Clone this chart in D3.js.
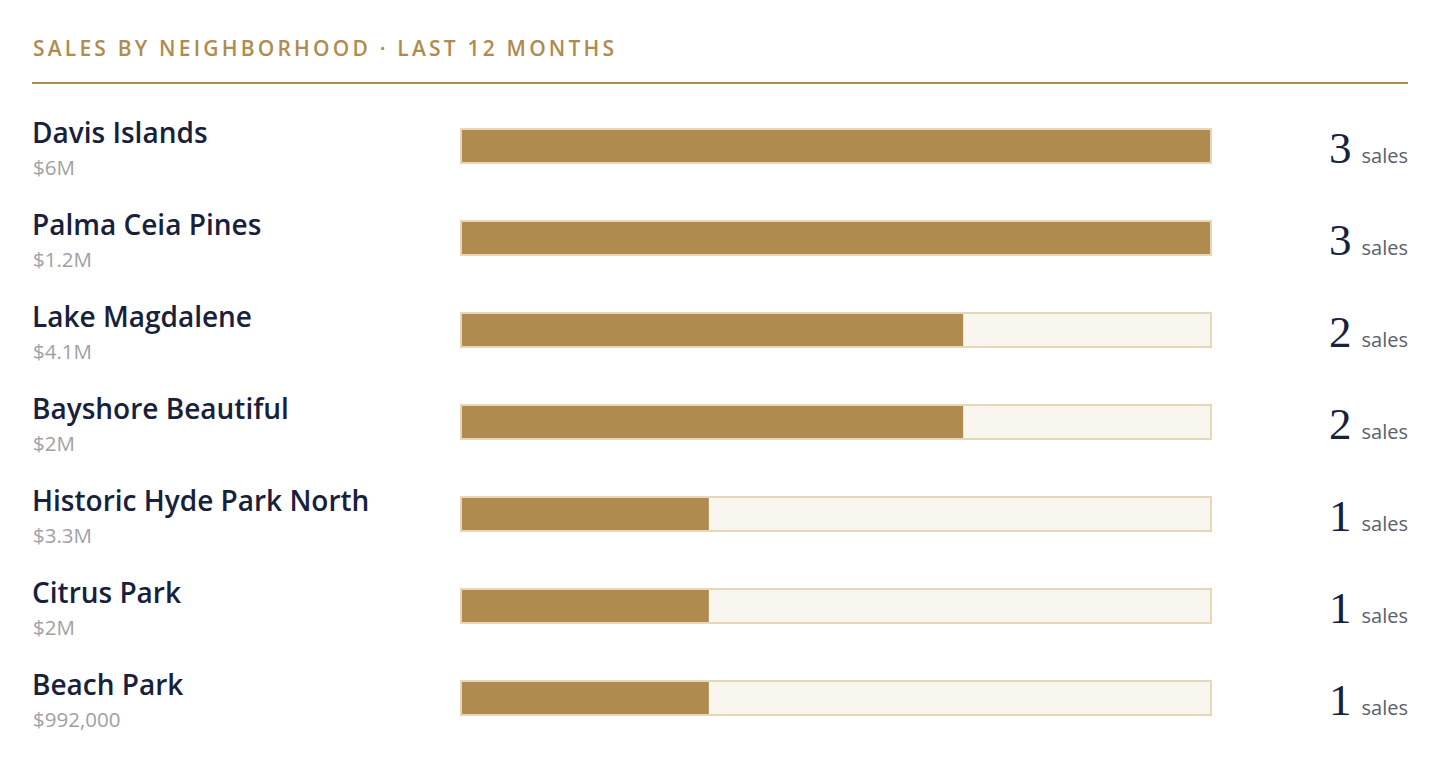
<!DOCTYPE html>
<html><head><meta charset="utf-8">
<script src="https://cdn.jsdelivr.net/npm/d3@7"></script>
<style>
html,body{margin:0;padding:0;background:#fff;}
svg{display:block;}
</style></head>
<body>
<svg id="chart" width="1440" height="776"></svg>
<script>
const neighborhoods = ["Davis Islands","Palma Ceia Pines","Lake Magdalene","Bayshore Beautiful","Historic Hyde Park North","Citrus Park","Beach Park"];
const volumes = ["$6M","$1.2M","$4.1M","$2M","$3.3M","$2M","$992,000"];
const salesCounts = [3,3,2,2,1,1,1];
const titleText = "SALES BY NEIGHBORHOOD · LAST 12 MONTHS";
const unitLabel = "sales";

const svg = d3.select("#chart");
const gold = "#b08b4f", navy = "#17213b";
const sans = "'Open Sans', 'Noto Sans', sans-serif";

svg.append("text").attr("x",33).attr("y",56)
  .attr("font-family",sans).attr("font-size",21).attr("font-weight",600)
  .attr("letter-spacing",3.2).attr("fill",gold).text(titleText);
svg.append("line").attr("x1",32).attr("x2",1408).attr("y1",83).attr("y2",83)
  .attr("stroke",gold).attr("stroke-width",2);

const maxCount = d3.max(salesCounts);
const rows = neighborhoods.map((n,i)=>({name:n, vol:volumes[i], count:salesCounts[i], pct:Math.round(salesCounts[i]/maxCount*100)}));

const y = d3.scaleBand().domain(neighborhoods).range([110,110+92*neighborhoods.length]);
const x = d3.scaleLinear().domain([0,100]).range([462,1210]);

const g = svg.selectAll("g.row").data(rows).join("g").attr("class","row")
  .attr("transform",d=>`translate(0,${y(d.name)})`);

g.append("text").attr("x",32).attr("y",33)
  .attr("font-family",sans).attr("font-size",28).attr("font-weight",600)
  .attr("fill",navy).text(d=>d.name);
g.append("text").attr("x",33).attr("y",65)
  .attr("font-family",sans).attr("font-size",20.5)
  .attr("fill","#a0a0a4").text(d=>d.vol);

g.append("rect").attr("x",x(0)-1).attr("y",19).attr("width",x(100)-x(0)+2).attr("height",34)
  .attr("fill","#f9f6ef").attr("stroke","#e6d7b8").attr("stroke-width",2);
g.append("rect").attr("x",x(0)).attr("y",20).attr("width",d=>x(d.pct)-x(0)).attr("height",32)
  .attr("fill",gold);

const t = g.append("text").attr("x",1408).attr("y",53).attr("text-anchor","end").attr("fill",navy);
t.append("tspan").attr("font-family","'Liberation Serif', 'DejaVu Serif', serif").attr("font-size",45)
  .text(d=>d.count);
t.append("tspan").attr("dx",10).attr("font-family",sans).attr("font-size",20).attr("fill","#5a5f6a")
  .text(unitLabel);
</script>
</body></html>
